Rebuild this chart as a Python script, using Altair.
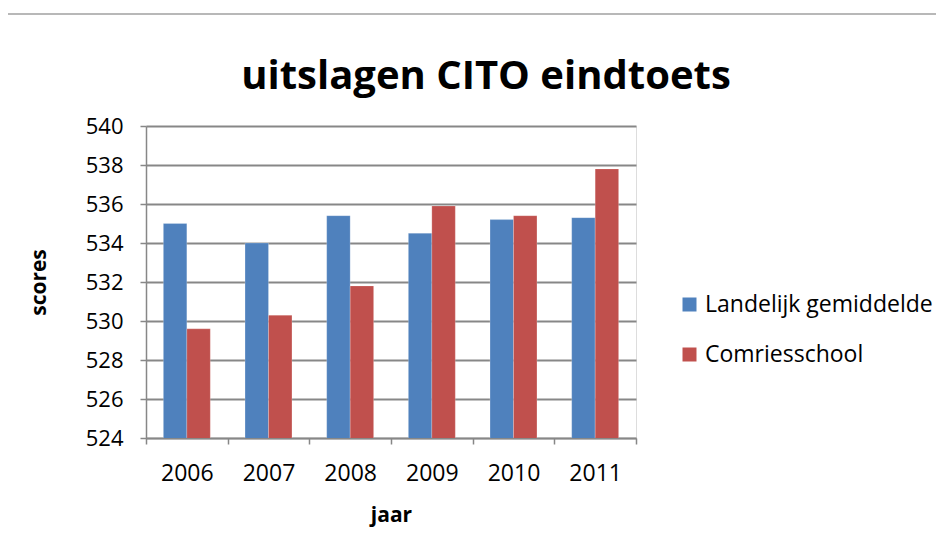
import altair as alt
import pandas as pd

years = ["2006", "2007", "2008", "2009", "2010", "2011"]
series = ["Landelijk gemiddelde", "Comriesschool"]
landelijk = [535.0, 534.0, 535.4, 534.5, 535.2, 535.3]
comries = [529.6, 530.3, 531.8, 535.9, 535.4, 537.8]
y_ticks = [524, 526, 528, 530, 532, 534, 536, 538, 540]
colors = ["#4F81BD", "#C0504D"]

rows = []
for i, y in enumerate(years):
    rows.append({"jaar": y, "serie": series[0], "score": landelijk[i]})
    rows.append({"jaar": y, "serie": series[1], "score": comries[i]})
df = pd.DataFrame(rows)

FONT = "Open Sans"
GRAY = "#878787"

bars = alt.Chart(df).mark_bar(clip=True, stroke="#ffffff", strokeOpacity=0.35, strokeWidth=0.6).encode(
    x=alt.X("jaar:N", sort=years,
            scale=alt.Scale(paddingInner=0, paddingOuter=0),
            axis=alt.Axis(title="jaar", labelAngle=0, tickBand="extent",
                          domainColor=GRAY, domainWidth=1.5, tickColor=GRAY, tickWidth=1.5, tickSize=6,
                          labelFontSize=23, labelFont=FONT, labelColor="#000000",
                          labelPadding=18,
                          titleFont=FONT, titleFontSize=21, titleFontWeight="bold",
                          titleColor="#000000", titleX=245, titleY=77,
                          titleBaseline="middle", grid=False)),
    xOffset=alt.XOffset("serie:N", sort=series,
                        scale=alt.Scale(paddingInner=0, paddingOuter=0.74)),
    y=alt.Y("score:Q",
            scale=alt.Scale(domain=[524, 540], zero=False, nice=False),
            axis=alt.Axis(title="scores", values=y_ticks, format="d",
                          domainColor=GRAY, domainWidth=1.5, tickColor=GRAY, tickWidth=1.5, tickSize=6,
                          gridColor=GRAY, gridWidth=1.8,
                          labelFontSize=22, labelFont=FONT, labelColor="#000000",
                          labelPadding=17,
                          titleFont=FONT, titleFontSize=21, titleFontWeight="bold",
                          titleColor="#000000", titleX=-107, titleY=156,
                          titleBaseline="middle", titleAngle=270)),
    color=alt.Color("serie:N", sort=series,
                    scale=alt.Scale(domain=series, range=colors),
                    legend=alt.Legend(title=None, orient="none", legendX=532, legendY=167,
                                      symbolType="square", symbolSize=196,
                                      symbolStrokeWidth=0, padding=0,
                                      labelFont=FONT, labelFontSize=23, labelLimit=400,
                                      labelColor="#000000", labelOffset=4,
                                      rowPadding=26)),
)

frame_top = alt.Chart(pd.DataFrame({"k": [0]})).mark_rule(color="#a0a0a0", strokeWidth=1.5, clip=False).encode(
    x=alt.value(-138), x2=alt.value(800), y=alt.value(-112)
)

chart = alt.layer(bars, frame_top).properties(
    width=490, height=312,
    padding={"left": 138, "top": 118, "right": 300, "bottom": 100},
    autosize=alt.AutoSizeParams(type="none"),
    title=alt.TitleParams("uitslagen CITO eindtoets", font=FONT, fontSize=40,
                          fontWeight="bold", color="#000000", anchor="middle",
                          dx=95, offset=-84, frame="group"),
).configure_view(stroke=None).configure(background="#ffffff")

chart.save("out.html", embed_options={"renderer": "svg", "actions": False})
